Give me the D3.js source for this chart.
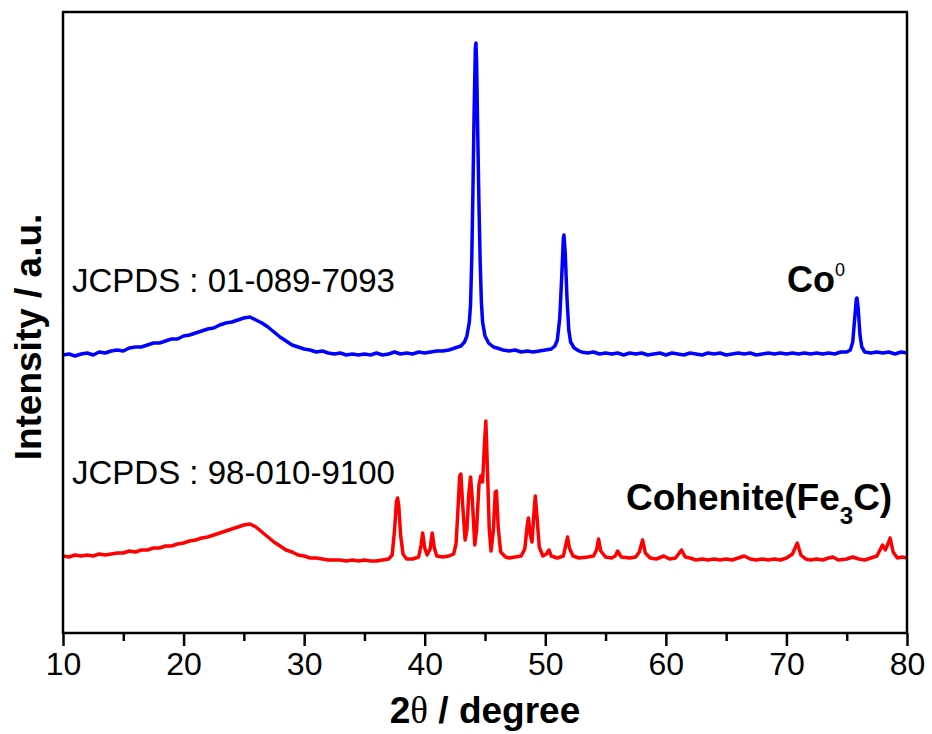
<!DOCTYPE html>
<html>
<head>
<meta charset="utf-8">
<script src="https://cdn.jsdelivr.net/npm/d3@7"></script>
<style>
  body { margin: 0; background: #fff; }
  svg text { font-family: "Liberation Sans", Arial, sans-serif; fill: #000; }
</style>
</head>
<body>
<svg id="chart" width="932" height="734"></svg>
<script>
// 2theta (degree), intensity (a.u., curves already stacked)
let coPattern = [
  [10,278],[10.5,279],[11,277],[11.5,279],[12,280],[12.5,278],[13,281],[13.5,280],[14,282],[14.5,283],
  [15,282],[15.5,285],[16,286],[16.5,286],[17,288],[17.5,290],[18,290],[18.5,292],[19,294],[19.5,294],
  [20,297],[20.5,298],[21,300],[21.5,302],[22,304],[22.5,305],[23,308],[23.5,310],[24,311],[24.5,313],
  [25,315],[25.5,316],[26,313],[26.5,310],[27,306],[27.5,301],[28,296],[28.5,292],[29,288],[29.5,286],
  [30,284],[30.5,283],[31,281],[31.5,282],[32,280],[32.5,279],[33,280],[33.5,278],[34,279],[34.5,278],
  [35,279],[35.5,278],[36,280],[36.5,278],[37,279],[37.5,281],[38,279],[38.5,280],[39,279],[39.5,281],
  [40,280],[40.5,281],[41,282],[41.5,282],[42,283],[42.5,285],[43,287],[43.3,291],[43.5,297],[43.7,311],
  [43.8,328],[43.9,373],[44,443],[44.1,523],[44.2,585],[44.25,590],[44.3,573],[44.4,498],[44.5,428],[44.6,371],
  [44.7,331],[44.8,311],[45,297],[45.3,290],[45.7,286],[46,285],[46.5,283],[47,282],[47.5,283],[48,281],
  [48.5,282],[49,281],[49.5,282],[50,283],[50.5,284],[50.8,287],[51,293],[51.2,315],[51.35,353],[51.5,395],
  [51.55,398],[51.65,381],[51.8,335],[51.95,303],[52.1,291],[52.4,285],[52.8,282],[53,281],[53.5,280],[54,281],
  [54.5,279],[55,280],[55.5,279],[56,280],[56.5,278],[57,280],[57.5,279],[58,280],[58.5,278],[59,279],
  [59.5,280],[60,278],[60.5,280],[61,279],[61.5,278],[62,280],[62.5,279],[63,278],[63.5,280],[64,279],
  [64.5,280],[65,278],[65.5,279],[66,280],[66.5,279],[67,280],[67.5,278],[68,279],[68.5,280],[69,279],
  [69.5,280],[70,279],[70.5,280],[71,279],[71.5,280],[72,279],[72.5,280],[73,279],[73.5,280],[74,279],
  [74.5,281],[75,281],[75.3,283],[75.5,291],[75.65,313],[75.8,334],[75.85,335],[75.95,325],[76.1,298],[76.25,286],
  [76.5,281],[77,280],[77.5,281],[78,280],[78.5,281],[79,279],[79.5,281],[80,280]
];

let fe3cPattern = [
  [10,77],[10.5,76],[11,78],[11.5,77],[12,78],[12.5,77],[13,79],[13.5,78],[14,79],[14.5,80],
  [15,80],[15.5,82],[16,81],[16.5,83],[17,83],[17.5,85],[18,85],[18.5,87],[19,87],[19.5,89],
  [20,90],[20.5,92],[21,93],[21.5,95],[22,96],[22.5,98],[23,100],[23.5,102],[24,104],[24.5,106],
  [25,108],[25.5,109],[26,106],[26.5,101],[27,96],[27.5,91],[28,87],[28.5,83],[29,81],[29.5,78],
  [30,77],[30.5,75],[31,75],[31.5,74],[32,73],[33,73],[33.5,72],[34,73],[34.5,72],[35,73],
  [35.5,72],[36,72],[36.5,73],[37,74],[37.3,78],[37.5,103],[37.65,131],[37.75,135],[37.85,127],[38,98],
  [38.2,79],[38.5,74],[39,74],[39.5,76],[39.7,88],[39.83,100],[40,85],[40.2,78],[40.45,84],[40.62,100],
  [40.8,85],[41,77],[41.5,76],[42,77],[42.4,79],[42.6,89],[42.8,133],[42.9,157],[43,159],[43.15,128],
  [43.35,93],[43.5,103],[43.65,138],[43.8,156],[43.95,133],[44.15,88],[44.3,103],[44.5,148],[44.65,157],[44.8,151],
  [44.95,188],[45.07,212],[45.2,165],[45.35,105],[45.5,82],[45.7,103],[45.85,141],[45.95,142],[46.1,105],[46.3,81],
  [46.7,76],[47,75],[47.5,76],[48,77],[48.3,84],[48.5,107],[48.6,115],[48.75,99],[48.9,91],[49.05,118],
  [49.17,137],[49.3,118],[49.5,86],[49.8,77],[50.1,79],[50.3,83],[50.5,77],[51,75],[51.5,77],[51.7,88],
  [51.85,96],[52,85],[52.3,77],[52.8,75],[53.5,76],[54,77],[54.25,83],[54.42,94],[54.6,82],[55,76],
  [55.5,75],[55.8,77],[56,82],[56.3,76],[57,75],[57.5,76],[57.8,81],[58.07,93],[58.3,80],[58.7,75],
  [59.2,74],[59.83,77],[60.3,74],[60.8,75],[61.3,83],[61.6,76],[62,75],[62.5,73],[63,74],[63.5,73],
  [64,74],[64.5,73],[65,74],[65.5,73],[66,75],[66.5,77],[67,74],[67.5,73],[68,74],[68.5,73],
  [69,74],[69.5,73],[70,75],[70.5,79],[70.9,90],[71.2,78],[71.6,74],[72,73],[72.5,74],[73,73],
  [73.5,75],[73.85,76],[74.3,73],[75,74],[75.5,76],[76,74],[76.5,73],[77,75],[77.5,77],[77.8,84],
  [77.97,88],[78.2,83],[78.45,90],[78.6,95],[78.85,81],[79.2,75],[79.6,76],[80,75]
];

let xDomain = [10, 80];
let yDomain = [0, 621];
let majorTicks = [10, 20, 30, 40, 50, 60, 70, 80];
let minorTicks = [15, 25, 35, 45, 55, 65, 75];

let margin = {left: 63, top: 12, right: 25, bottom: 101};
let width = 932, height = 734;

let svg = d3.select('#chart');

let x = d3.scaleLinear().domain(xDomain).range([margin.left, width - margin.right]);
let y = d3.scaleLinear().domain(yDomain).range([height - margin.bottom, margin.top]);

let line = d3.line()
  .x(function(d){ return x(d[0]); })
  .y(function(d){ return y(d[1]); });

svg.append('path')
  .datum(coPattern)
  .attr('d', line)
  .attr('fill', 'none')
  .attr('stroke', '#0000ff')
  .attr('stroke-width', 3.5)
  .attr('stroke-linejoin', 'round');

svg.append('path')
  .datum(fe3cPattern)
  .attr('d', line)
  .attr('fill', 'none')
  .attr('stroke', '#ff0000')
  .attr('stroke-width', 3.5)
  .attr('stroke-linejoin', 'round');

// axis ticks
let xAxis = svg.append('g')
  .attr('transform', `translate(0,${height - margin.bottom})`)
  .call(d3.axisBottom(x).tickValues(majorTicks).tickSize(13).tickSizeOuter(0).tickPadding(6));
xAxis.select('.domain').remove();
xAxis.selectAll('line').attr('stroke', '#000').attr('stroke-width', 2.5);
xAxis.selectAll('text')
  .attr('font-size', 32)
  .attr('font-family', '"Liberation Sans", Arial, sans-serif')
  .attr('fill', '#000');

let xMinor = svg.append('g')
  .attr('transform', `translate(0,${height - margin.bottom})`)
  .call(d3.axisBottom(x).tickValues(minorTicks).tickSize(8).tickFormat(''));
xMinor.select('.domain').remove();
xMinor.selectAll('line').attr('stroke', '#000').attr('stroke-width', 2.5);

// frame
svg.append('rect')
  .attr('x', margin.left)
  .attr('y', margin.top)
  .attr('width', width - margin.left - margin.right)
  .attr('height', height - margin.top - margin.bottom)
  .attr('fill', 'none')
  .attr('stroke', '#000')
  .attr('stroke-width', 2.5)
  .attr('stroke-linejoin', 'round');

// axis titles
let xTitle = svg.append('text')
  .attr('x', (margin.left + width - margin.right) / 2)
  .attr('y', 723)
  .attr('text-anchor', 'middle')
  .attr('font-size', 37)
  .attr('font-weight', 'bold');
xTitle.append('tspan').text('2');
xTitle.append('tspan').attr('font-family', '"Liberation Serif", "DejaVu Serif", serif').attr('font-weight', 'normal').text('θ');
xTitle.append('tspan').text(' / degree');

svg.append('text')
  .attr('transform', 'translate(41,337) rotate(-90)')
  .attr('text-anchor', 'middle')
  .attr('font-size', 37)
  .attr('font-weight', 'bold')
  .text('Intensity / a.u.');

// annotations
svg.append('text')
  .attr('x', 72).attr('y', 292)
  .attr('font-size', 33)
  .text('JCPDS : 01-089-7093');

svg.append('text')
  .attr('x', 72).attr('y', 484)
  .attr('font-size', 33)
  .text('JCPDS : 98-010-9100');

let co = svg.append('text')
  .attr('x', 787).attr('y', 292)
  .attr('font-size', 36)
  .attr('font-weight', 'bold');
co.append('tspan').text('Co');
co.append('tspan').attr('font-size', 18).attr('font-weight', 'normal').attr('dy', -16).text('0');

let fe = svg.append('text')
  .attr('x', 626).attr('y', 510)
  .attr('font-size', 37)
  .attr('font-weight', 'bold');
fe.append('tspan').text('Cohenite(Fe');
fe.append('tspan').attr('font-size', 24).attr('dy', 14).text('3');
fe.append('tspan').attr('dy', -14).text('C)');
</script>
</body>
</html>
